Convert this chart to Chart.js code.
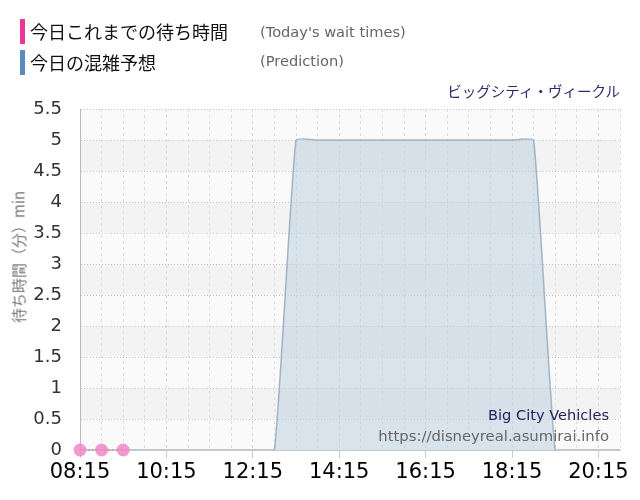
<!DOCTYPE html>
<html>
<head>
<meta charset="utf-8">
<script src="https://cdn.jsdelivr.net/npm/chart.js@4"></script>
<style>
  body { margin: 0; background: #fff; }
  #wrap { position: relative; width: 640px; height: 500px; }
  #myChart { position: absolute; left: 0; top: 0; }
  .lg { position: absolute; left: 20px; width: 5px; height: 25px; }
  .jp { position: absolute; font-family: "Noto Sans CJK JP", sans-serif; white-space: nowrap; }
  .en { position: absolute; font-family: "DejaVu Sans", sans-serif; white-space: nowrap; }
  #ytitle { position: absolute; left: 18px; top: 257px; transform: translate(-50%, -50%) rotate(-90deg);
            font-family: "Noto Sans CJK JP", sans-serif; font-size: 15px; color: #777; white-space: nowrap; }
</style>
</head>
<body>
<div id="wrap">
  <canvas id="myChart" width="640" height="500"></canvas>
  <div class="lg" style="top:19px;background:#ec3797"></div>
  <div class="jp" style="left:30px;top:18px;font-size:18px;line-height:26px;color:#111">今日これまでの待ち時間</div>
  <div class="en" style="left:260px;top:22px;font-size:14.6px;line-height:20px;color:#666">(Today's wait times)</div>
  <div class="lg" style="top:50px;background:#5a8bba"></div>
  <div class="jp" style="left:30px;top:49px;font-size:18px;line-height:26px;color:#111">今日の混雑予想</div>
  <div class="en" style="left:260px;top:51px;font-size:14.6px;line-height:20px;color:#666">(Prediction)</div>
  <div class="jp" style="right:20px;top:81px;font-size:14.5px;line-height:20px;color:#2b2b6b">ビッグシティ・ヴィークル</div>
  <div class="en" style="right:31px;top:405px;font-size:14.6px;line-height:20px;color:#22225e">Big City Vehicles</div>
  <div class="en" style="right:31px;top:426px;font-size:14.8px;line-height:20px;color:#666">https://disneyreal.asumirai.info</div>
  <div id="ytitle">待ち時間（分）min</div>
</div>
<script>
const times = ['08:15','08:45','09:15','09:45','10:15','10:45','11:15','11:45','12:15','12:45',
  '13:15','13:45','14:15','14:45','15:15','15:45','16:15','16:45','17:15','17:45','18:15','18:45',
  '19:15','19:45','20:15','20:45'];
const waitTimes = [0, 0, 0];
const prediction = [0,0,0,0,0,0,0,0,0,0, 5,5,5,5,5,5,5,5,5,5,5,5, 0,0,0,0];
const yTicks = [0,0.5,1,1.5,2,2.5,3,3.5,4,4.5,5,5.5];

const ctx = document.getElementById('myChart');

// alternating background bands
const bands = {
  id: 'bands',
  beforeDraw(chart) {
    const {ctx, chartArea: a, scales: {y}} = chart;
    ctx.save();
    for (let i = 0; i < yTicks.length - 1; i++) {
      const top = y.getPixelForValue(yTicks[i + 1]);
      const bot = y.getPixelForValue(yTicks[i]);
      ctx.fillStyle = (i % 2 === 1) ? '#f3f3f3' : '#fafafa';
      ctx.fillRect(a.left, top, a.right - a.left, bot - top);
    }
    ctx.restore();
  }
};

new Chart(ctx, {
  type: 'line',
  data: {
    labels: times,
    datasets: [{
      label: '今日これまでの待ち時間',
      data: waitTimes,
      borderColor: 'rgba(236,80,160,0.7)',
      borderWidth: 1,
      borderDash: [2, 2],
      pointRadius: 6.5,
      pointBackgroundColor: 'rgba(240,135,200,0.85)',
      pointBorderWidth: 0,
      fill: false,
      clip: false,
      order: 0
    }, {
      label: '今日の混雑予想',
      data: prediction,
      borderColor: 'rgba(140,160,180,0.75)',
      borderWidth: 1.5,
      backgroundColor: 'rgba(188,208,224,0.55)',
      fill: 'origin',
      pointRadius: 0,
      tension: 0.12,
      order: 1
    }]
  },
  options: {
    responsive: false,
    animation: false,
    layout: { padding: { top: 109, right: 20, left: 0, bottom: 0 } },
    plugins: { legend: { display: false }, tooltip: { enabled: false } },
    scales: {
      x: {
        offset: false,
        afterFit: (s) => { s.height = 50; },
        grid: {
          color: (c) => c.index % 4 === 0 ? '#d8d8d8' : '#dedede',
          tickColor: (c) => c.index % 4 === 0 ? '#cccccc' : 'rgba(0,0,0,0)',
          tickLength: 8
        },
        border: { color: '#c8c8c8', dash: [3, 3] },
        ticks: {
          autoSkip: false,
          maxRotation: 0,
          color: '#000',
          font: { family: 'DejaVu Sans', size: 21 },
          padding: 2,
          callback: (v, i) => i % 4 === 0 ? times[i] : ''
        }
      },
      y: {
        min: 0,
        max: 5.5,
        afterFit: (s) => { s.width = 80; },
        afterBuildTicks: (s) => { s.ticks = yTicks.map(v => ({ value: v })); },
        grid: { color: '#c8c8c8', tickColor: 'rgba(0,0,0,0)', tickLength: 8 },
        border: { color: '#b8b8c8', dash: [1, 2] },
        ticks: {
          color: '#333',
          font: { family: 'DejaVu Sans', size: 18 },
          padding: 10,
          callback: (v) => String(v)
        }
      }
    }
  },
  plugins: [bands]
});
</script>
</body>
</html>
